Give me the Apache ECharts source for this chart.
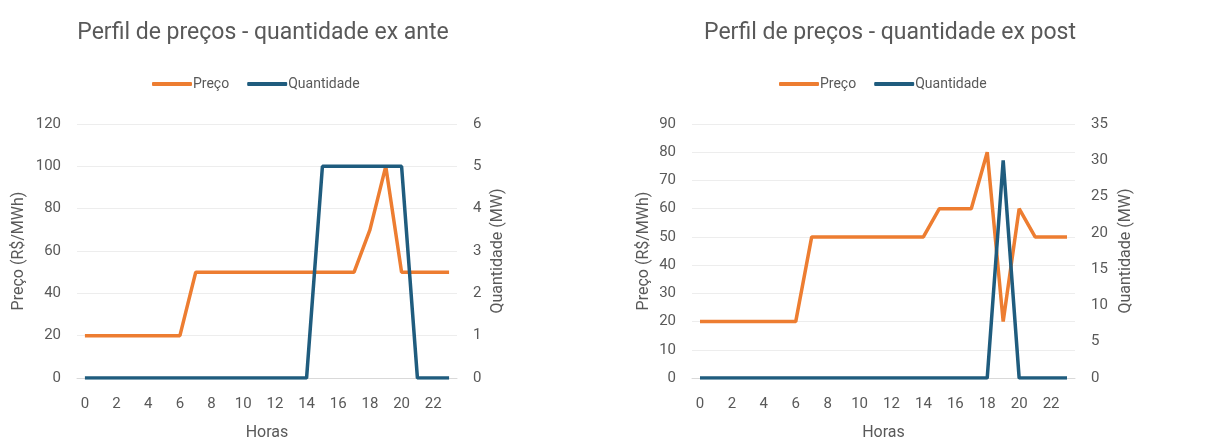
<!DOCTYPE html>
<html><head><meta charset="utf-8">
<script src="https://cdn.jsdelivr.net/npm/echarts@6/dist/echarts.min.js"></script>
<style>html,body{margin:0;padding:0;background:#fff}#c{width:1224px;height:444px}</style>
</head><body><div id="c"></div>
<script>
const hours = ['0','1','2','3','4','5','6','7','8','9','10','11','12','13','14','15','16','17','18','19','20','21','22','23'];
const titles = ['Perfil de preços - quantidade ex ante', 'Perfil de preços - quantidade ex post'];
const seriesNames = ['Preço', 'Quantidade'];
const priceAnte = [20,20,20,20,20,20,20,50,50,50,50,50,50,50,50,50,50,50,70,100,50,50,50,50];
const qtyAnte   = [0,0,0,0,0,0,0,0,0,0,0,0,0,0,0,5,5,5,5,5,5,0,0,0];
const pricePost = [20,20,20,20,20,20,20,50,50,50,50,50,50,50,50,60,60,60,80,20,60,50,50,50];
const qtyPost   = [0,0,0,0,0,0,0,0,0,0,0,0,0,0,0,0,0,0,0,30,0,0,0,0];
const yLeftName = 'Preço (R$/MWh)';
const yRightName = 'Quantidade (MW)';
const xName = 'Horas';

const FONT = 'Roboto';
const GRAY = '#595959';
const ORANGE = '#ED7D31';
const BLUE = '#1F5C7E';

function xAx(gi){
  return {type:'category', gridIndex:gi, data:hours, boundaryGap:true,
    name:xName, nameLocation:'middle', nameGap:47,
    nameTextStyle:{color:GRAY, fontSize:16, fontFamily:FONT},
    axisLine:{show:true, lineStyle:{color:'#d9d9d9', width:1}},
    axisTick:{show:false},
    axisLabel:{interval:1, color:GRAY, fontSize:15, fontFamily:FONT, margin:19}};
}
function yAx(gi, min, max, interval, name, pos, nameGap, split){
  return {type:'value', gridIndex:gi, min:min, max:max, interval:interval, position:pos,
    name:name, nameLocation:'middle', nameGap:nameGap, nameRotate:90,
    nameTextStyle:{color:GRAY, fontSize:16, fontFamily:FONT},
    axisLine:{show:false}, axisTick:{show:false},
    splitLine:{show:split, lineStyle:{color:'#ededed', width:1}},
    axisLabel:{color:GRAY, fontSize:15, fontFamily:FONT, margin:16}};
}
function legend(left){
  return {left:left, top:72, itemWidth:40, itemHeight:4, itemGap:18,
    icon:'roundRect',
    textStyle:{color:GRAY, fontSize:14, fontFamily:FONT, padding:[0,0,0,-4]},
    data:seriesNames};
}
const chart = echarts.init(document.getElementById('c'), null, {renderer:'canvas'});
chart.setOption({
  animation:false,
  backgroundColor:'#fff',
  title:[
    {text:titles[0], left:258, top:17, textAlign:'center', textStyle:{color:GRAY, fontSize:23, fontWeight:'normal', fontFamily:FONT}},
    {text:titles[1], left:885, top:17, textAlign:'center', textStyle:{color:GRAY, fontSize:23, fontWeight:'normal', fontFamily:FONT}}
  ],
  legend:[legend(147), legend(774)],
  grid:[
    {left:77, right:767, top:124, bottom:66, outerBoundsMode:'none', containLabel:false},
    {left:692, right:149, top:124, bottom:66, outerBoundsMode:'none', containLabel:false}
  ],
  xAxis:[xAx(0), xAx(1)],
  yAxis:[
    yAx(0, 0, 120, 20, yLeftName, 'left', 50, true),
    yAx(0, 0, 6, 1, yRightName, 'right', 33, false),
    yAx(1, 0, 90, 10, yLeftName, 'left', 40, true),
    yAx(1, 0, 35, 5, yRightName, 'right', 43, false)
  ],
  series:[
    {name:seriesNames[0], type:'line', xAxisIndex:0, yAxisIndex:0, data:priceAnte, symbol:'none', lineStyle:{color:ORANGE, width:3.5}, itemStyle:{color:ORANGE}, z:2},
    {name:seriesNames[1], type:'line', xAxisIndex:0, yAxisIndex:1, data:qtyAnte, symbol:'none', lineStyle:{color:BLUE, width:3.5}, itemStyle:{color:BLUE}, z:3},
    {name:seriesNames[0], type:'line', xAxisIndex:1, yAxisIndex:2, data:pricePost, symbol:'none', lineStyle:{color:ORANGE, width:3.5}, itemStyle:{color:ORANGE}, z:2},
    {name:seriesNames[1], type:'line', xAxisIndex:1, yAxisIndex:3, data:qtyPost, symbol:'none', lineStyle:{color:BLUE, width:3.5}, itemStyle:{color:BLUE}, z:3}
  ]
});
</script></body></html>
